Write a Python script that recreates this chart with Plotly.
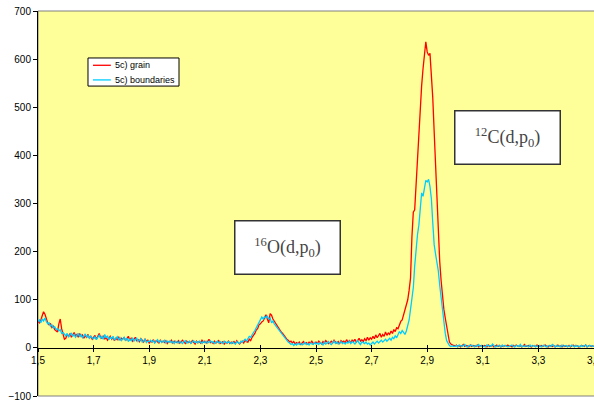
import plotly.graph_objects as go

# Spectrum sampling (energy channel calibration)
X_START = 1.5
X_STEP = 0.005

# 5c) grain (red) counts, one value per channel from 1.500 to 3.500
grain = [
    55, 52, 58, 65, 75, 70, 60, 52, 48, 50, 42, 45, 38, 36, 33, 50, 60, 40, 25, 18,
    20, 28, 24, 30, 22, 26, 32, 25, 28, 22, 30, 24, 27, 20, 25, 22, 28, 20, 24, 18,
    22, 26, 18, 24, 30, 22, 20, 25, 18, 22, 16, 20, 24, 18, 22, 15, 20, 17, 23, 16,
    20, 18, 22, 15, 19, 24, 16, 20, 14, 18, 22, 15, 17, 13, 19, 16, 12, 18, 14, 16,
    10, 14, 12, 17, 11, 15, 13, 10, 16, 12, 14, 11, 15, 9, 13, 12, 16, 10, 14, 12,
    11, 15, 10, 13, 16, 12, 9, 14, 11, 13, 10, 15, 12, 8, 14, 11, 13, 10, 16, 12,
    14, 10, 13, 18, 11, 12, 9, 14, 10, 12, 15, 9, 11, 13, 8, 12, 10, 14, 9, 12,
    10, 13, 9, 15, 11, 8, 12, 14, 10, 16, 13, 12, 18, 15, 22, 25, 30, 37, 40, 48,
    50, 54, 56, 62, 69, 60, 52, 71, 68, 60, 55, 50, 45, 40, 36, 33, 30, 25, 20, 18,
    16, 12, 14, 10, 13, 8, 11, 9, 12, 7, 10, 13, 9, 11, 8, 12, 10, 14, 9, 11,
    12, 9, 14, 11, 8, 13, 10, 15, 12, 9, 11, 14, 10, 16, 12, 10, 13, 9, 15, 12,
    14, 11, 17, 12, 15, 10, 16, 13, 18, 12, 15, 20, 14, 17, 13, 19, 15, 22, 16, 21,
    18, 24, 19, 27, 21, 25, 30, 22, 28, 24, 33, 26, 31, 28, 35, 30, 38, 34, 42, 40,
    50, 55, 58, 68, 80, 90, 100, 120, 145, 230, 282, 287, 340, 400, 460, 500, 545, 580, 610, 636,
    615, 608, 612, 570, 520, 450, 380, 300, 230, 180, 140, 105, 80, 62, 45, 25, 12, 8, 6, 5,
    4, 6, 3, 5, 2, 4, 7, 3, 5, 4, 2, 6, 3, 5, 4, 3, 6, 2, 4, 5,
    3, 5, 4, 2, 6, 3, 4, 5, 2, 4, 6, 3, 5, 2, 4, 3, 5, 4, 6, 3,
    4, 2, 5, 3, 6, 4, 3, 5, 2, 4, 7, 3, 4, 5, 3, 2, 5, 4, 3, 6,
    2, 4, 5, 3, 4, 6, 3, 2, 5, 4, 3, 5, 2, 4, 6, 3, 4, 2, 5, 3,
    4, 3, 5, 2, 4, 6, 3, 5, 4, 2, 3, 5, 4, 3, 6, 2, 4, 5, 3, 4, 3,
]

# 5c) boundaries (cyan) counts
boundaries = [
    55, 58, 52, 60, 56, 62, 55, 50, 52, 45, 48, 42, 44, 38, 40, 35, 38, 30, 32, 28,
    25, 30, 22, 27, 31, 24, 28, 22, 26, 30, 23, 27, 21, 25, 29, 22, 26, 20, 24, 21,
    19, 23, 17, 22, 26, 20, 24, 18, 28, 21, 25, 17, 22, 19, 24, 16, 20, 23, 17, 21,
    15, 19, 22, 16, 20, 13, 18, 15, 21, 14, 17, 20, 13, 16, 19, 12, 15, 18, 11, 14,
    13, 16, 12, 15, 10, 14, 17, 12, 15, 11, 13, 16, 10, 14, 12, 15, 11, 13, 9, 14,
    12, 10, 14, 11, 9, 13, 15, 10, 12, 14, 9, 12, 15, 11, 13, 10, 14, 12, 9, 13,
    11, 14, 10, 12, 15, 11, 13, 9, 12, 14, 10, 13, 11, 9, 14, 12, 10, 13, 11, 9,
    12, 10, 8, 13, 11, 9, 14, 12, 15, 18, 14, 20, 24, 22, 28, 32, 36, 42, 46, 52,
    58, 64, 60, 65, 62, 67, 60, 62, 52, 56, 50, 46, 42, 38, 34, 30, 26, 22, 18, 15,
    12, 10, 7, 9, 5, 8, 6, 10, 7, 9, 6, 8, 11, 7, 9, 6, 10, 8, 7, 11,
    8, 10, 7, 11, 9, 6, 12, 8, 10, 13, 9, 7, 11, 14, 9, 12, 8, 10, 13, 9,
    11, 8, 12, 10, 14, 9, 13, 11, 8, 12, 15, 10, 7, 13, 11, 9, 12, 8, 10, 6,
    9, 12, 8, 11, 14, 10, 13, 16, 12, 15, 18, 14, 17, 20, 16, 22, 19, 25, 21, 27,
    34, 30, 36, 32, 28, 35, 45, 58, 80, 100, 125, 170, 210, 235, 255, 300, 322, 315, 330, 348,
    345, 350, 335, 310, 260, 215, 195, 180, 160, 130, 105, 75, 50, 30, 15, 8, 5, 3, 4, 3,
    3, 5, 2, 6, 4, 3, 5, 7, 3, 2, 5, 4, 6, 3, 2, 5, 4, 7, 3, 4,
    5, 3, 2, 6, 4, 5, 3, 8, 4, 2, 3, 5, 4, 2, 6, 3, 5, 4, 2, 3,
    4, 6, 3, 2, 5, 4, 3, 7, 2, 4, 3, 5, 4, 2, 6, 3, 4, 5, 2, 4,
    3, 5, 2, 4, 6, 3, 2, 5, 4, 3, 7, 4, 2, 5, 3, 4, 2, 6, 3, 4,
    5, 2, 4, 3, 6, 4, 2, 5, 3, 4, 2, 5, 3, 4, 6, 2, 3, 5, 4, 3, 4,
]

energy = [round(X_START + i * X_STEP, 3) for i in range(len(grain))]

x_tickvals = [1.5, 1.7, 1.9, 2.1, 2.3, 2.5, 2.7, 2.9, 3.1, 3.3, 3.5]
x_ticktext = ["1,5", "1,7", "1,9", "2,1", "2,3", "2,5", "2,7", "2,9", "3,1", "3,3", "3,5"]
y_tickvals = [-100, 0, 100, 200, 300, 400, 500, 600, 700]

series_names = ["5c) grain", "5c) boundaries"]
series_colors = ["#FF0000", "#00CCFF"]
peak_labels = ["<sup>16</sup>O(d,p<sub>0</sub>)", "<sup>12</sup>C(d,p<sub>0</sub>)"]
peak_label_pos = [(2.397, 209), (3.189, 438)]

fig = go.Figure()
for vals, name, col in zip([grain, boundaries], series_names, series_colors):
    fig.add_trace(go.Scatter(x=energy, y=vals, mode="lines", name=name,
                             showlegend=False,
                             line=dict(color=col, width=1.3)))

axis_font = dict(family="Liberation Sans, Arial, sans-serif", size=10, color="#000000")

fig.update_layout(
    width=594, height=401,
    margin=dict(l=38, r=0, t=11, b=5, autoexpand=False),
    paper_bgcolor="#FFFFFF",
    plot_bgcolor="#FFFF99",
    showlegend=False,
    xaxis=dict(
        range=[1.5, 3.5], anchor="free", position=0.125, automargin=False,
        showgrid=False, zeroline=False,
        showline=True, linecolor="#000000", linewidth=1,
        ticks="outside", ticklen=3, tickcolor="#000000",
        tickvals=x_tickvals, ticktext=x_ticktext,
        tickfont=axis_font, ticklabeloverflow="allow",
    ),
    xaxis2=dict(
        range=[1.5, 3.5], overlaying="x", anchor="free", position=0.125,
        automargin=False,
        showgrid=False, zeroline=False, showline=False,
        ticks="inside", ticklen=3, tickcolor="#000000",
        tickvals=x_tickvals, showticklabels=False,
    ),
    yaxis=dict(
        range=[-100, 700], showgrid=False, zeroline=False, automargin=False,
        showline=True, linecolor="#000000", linewidth=1,
        ticks="outside", ticklen=4, tickcolor="#000000",
        tickvals=y_tickvals, tickfont=axis_font, ticklabeloverflow="allow",
    ),
)

# invisible trace to activate xaxis2 ticks
fig.add_trace(go.Scatter(x=[1.5], y=[None], xaxis="x2", showlegend=False,
                         hoverinfo="skip", mode="lines"))

# plot area border (right edge falls outside the page like the original)
fig.add_shape(type="rect", xref="paper", yref="paper", x0=0, x1=1.01, y0=0, y1=1,
              line=dict(color="#808080", width=1), layer="below")

# legend box drawn in paper coordinates
LEG_X0, LEG_X1, LEG_Y0, LEG_Y1 = 0.0899, 0.2536, 0.805, 0.878
fig.add_shape(type="rect", xref="paper", yref="paper",
              x0=LEG_X0, x1=LEG_X1, y0=LEG_Y0, y1=LEG_Y1,
              line=dict(color="#000000", width=1), fillcolor="#FFFFFF", layer="above")
leg_rows = [0.859, 0.821]
for name, col, ly in zip(series_names, series_colors, leg_rows):
    fig.add_shape(type="line", xref="paper", yref="paper",
                  x0=0.0989, x1=0.131, y0=ly, y1=ly,
                  line=dict(color=col, width=1.3), layer="above")
    fig.add_annotation(x=0.1345, y=ly, xref="paper", yref="paper", text=name,
                       showarrow=False, xanchor="left", yanchor="middle",
                       font=dict(family="Liberation Sans, Arial, sans-serif",
                                 size=9, color="#000000"))

for txt, (ax, ay) in zip(peak_labels, peak_label_pos):
    fig.add_annotation(x=ax, y=ay, xref="x", yref="y", text=txt, showarrow=False,
                       font=dict(family="Liberation Serif, Times New Roman, serif",
                                 size=18, color="#444444"),
                       bgcolor="#FFFFFF", bordercolor="#333333", borderwidth=1.5,
                       borderpad=1, width=102, height=50)

fig.write_html("out.html")
